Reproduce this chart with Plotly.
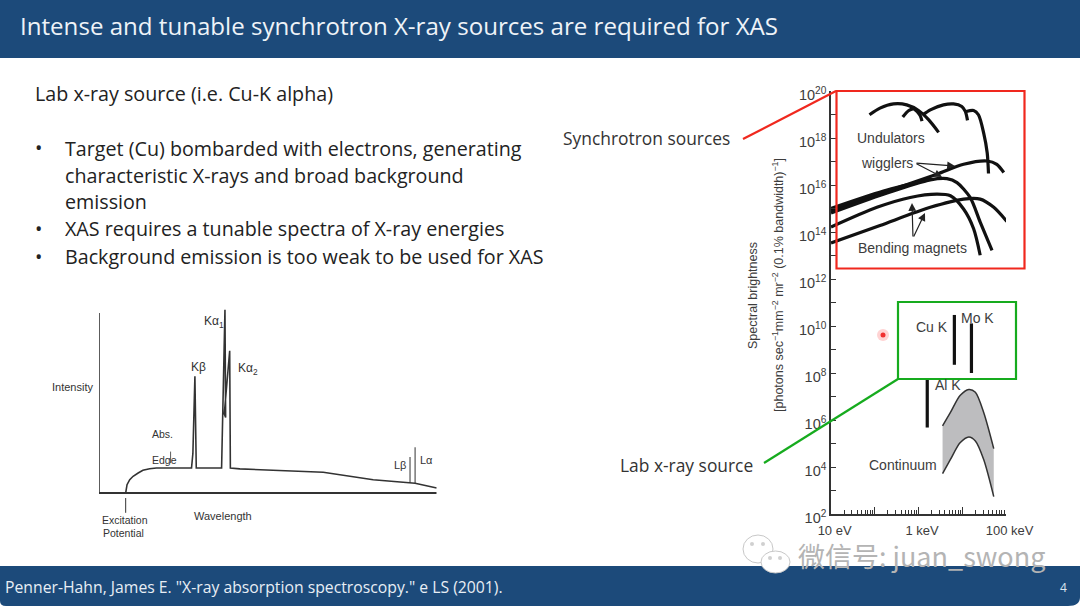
import plotly.graph_objects as go

W, H = 1080, 606

# ---- Left chart data (arbitrary units) ----
spectrum_wavelength = [7.9, 8.3, 9.1, 10.1, 11.6, 13.0, 15.0, 17.0, 27.4, 27.8, 28.4, 28.8, 36.3, 37.3, 37.5, 37.1, 38.7, 38.9, 41.7, 66.4, 81.2, 92.1, 93.6, 100]
spectrum_intensity = [0, 4.6, 7.4, 9.3, 11.1, 12.6, 13.5, 13.9, 13.9, 22, 64.8, 13.9, 13.9, 101.9, 42, 44, 79, 13.9, 13.4, 11.5, 7.4, 5.6, 5.4, 2.8]
l_beta_wavelength = [92.1, 92.1]
l_beta_intensity = [5.6, 20]
l_alpha_wavelength = [93.6, 93.6]
l_alpha_intensity = [5.4, 25.4]
edge_wavelength = [21.2, 21.2]
edge_intensity = [16.6, 23]
excitation_wavelength = [7.9, 7.9]
excitation_intensity = [-2.8, -11]
baseline_wavelength = [0, 100]
baseline_intensity = [0, 0]
axis_wavelength = [0, 0]
axis_intensity = [0, 100]

# ---- Right chart data (log10 eV, log10 brightness) ----
undulators = [
    ([1.88, 2.12, 2.43, 2.73, 3.00, 3.23, 3.46], [18.99, 19.27, 19.45, 19.41, 19.17, 18.78, 18.24]),
    ([2.64, 2.77, 2.89, 2.98, 3.04, 3.08], [18.89, 19.16, 19.24, 19.10, 18.95, 18.72]),
    ([3.10, 3.27, 3.57, 3.80, 3.99, 4.07, 4.12], [18.99, 19.20, 19.41, 19.45, 19.34, 19.13, 18.75]),
    ([4.09, 4.26, 4.37, 4.49, 4.57, 4.60], [19.13, 19.17, 18.99, 18.21, 17.37, 16.49]),
]
wigglers = [
    ([1.0, 2.20, 3.42, 4.03, 4.57, 4.79, 4.95], [14.91, 15.68, 16.46, 16.88, 17.02, 16.88, 16.53]),
    ([1.0, 2.20, 3.27, 3.65, 3.88, 4.18, 4.41, 4.68], [14.81, 15.61, 16.22, 16.27, 16.10, 15.47, 14.42, 13.22]),
    ([1.0, 2.20, 3.30], [15.00, 15.74, 16.26]),
]
bending = [
    ([1.0, 2.05, 2.81, 3.42, 3.73, 4.03, 4.26, 4.41], [14.21, 15.05, 15.47, 15.61, 15.54, 14.98, 14.14, 13.01]),
    ([1.0, 2.12, 3.27, 4.03, 4.41, 4.72, 5.02], [13.53, 14.28, 15.05, 15.40, 15.40, 15.05, 14.45]),
]
k_lines = [
    ([3.20, 3.20], [5.68, 7.75]),
    ([3.82, 3.82], [8.35, 10.47]),
    ([4.21, 4.21], [8.00, 10.11]),
]
continuum_log_e = [3.55, 3.73, 3.95, 4.15, 4.30, 4.49, 4.72]
continuum_top = [5.75, 6.32, 7.04, 7.30, 7.18, 6.32, 4.78]
continuum_bottom = [3.72, 4.32, 5.03, 5.28, 5.11, 4.32, 2.74]

y_tick_exponents = list(range(2, 21))
x_tick_values = [10, 100, 1000, 10000, 100000]
x_tick_labels = ["&nbsp;&nbsp;10 eV", " ", "&nbsp;&nbsp;1 keV", " ", "&nbsp;&nbsp;100 keV"]

bullets = [
    ("•", 35, 147), ("Target (Cu) bombarded with electrons, generating", 65, 148),
    ("characteristic X-rays and broad background", 65, 175), ("emission", 65, 202),
    ("•", 35, 229), ("XAS requires a tunable spectra of X-ray energies", 65, 229),
    ("•", 35, 256), ("Background emission is too weak to be used for XAS", 65, 256),
]

BLUE = "#1c4a7a"
INK = "#3c3c3c"
BODY = "Open Sans"
ARIAL = "Liberation Sans"


def px(x):
    return x / W


def py(y):
    return 1 - y / H


def e(v):
    return [10.0 ** a for a in v]


fig = go.Figure()

# left chart traces
left = dict(xaxis="x", yaxis="y", mode="lines", showlegend=False, hoverinfo="skip")
for xs, ys, lw in [
    (baseline_wavelength, baseline_intensity, 1.8),
    (axis_wavelength, axis_intensity, 1.6),
    (spectrum_wavelength, spectrum_intensity, 1.6),
    (l_beta_wavelength, l_beta_intensity, 1.0),
    (l_alpha_wavelength, l_alpha_intensity, 1.0),
    (edge_wavelength, edge_intensity, 0.8),
    (excitation_wavelength, excitation_intensity, 1.0),
]:
    fig.add_trace(go.Scatter(x=xs, y=ys, line=dict(color="#333333", width=lw), **left))

# right chart traces
right = dict(xaxis="x2", yaxis="y2", mode="lines", showlegend=False, hoverinfo="skip")
smooth = dict(shape="spline", smoothing=0.8)
fig.add_trace(go.Scatter(x=e(continuum_log_e), y=e(continuum_bottom), line=dict(color="#333333", width=1.5, **smooth), **right))
fig.add_trace(go.Scatter(x=e(continuum_log_e), y=e(continuum_top), fill="tonexty", fillcolor="#bdbdbf",
                         line=dict(color="#333333", width=1.5, **smooth), **right))
for group in (undulators, wigglers, bending):
    for xs, ys in group:
        fig.add_trace(go.Scatter(x=e(xs), y=e(ys), line=dict(color="#111111", width=3.2, **smooth), **right))
for xs, ys in k_lines:
    fig.add_trace(go.Scatter(x=e(xs), y=e(ys), line=dict(color="#111111", width=3.2), **right))

shapes = [
    dict(type="path", xref="paper", yref="paper", layer="below", fillcolor=BLUE, line=dict(width=0),
         path=f"M 0 1 L 1 1 L 1 {py(58)} L 0 {py(58)} Z"),
    dict(type="path", xref="paper", yref="paper", layer="below", fillcolor=BLUE, line=dict(width=0),
         path=f"M 0 {py(566)} L 1 {py(566)} L 1 {py(597)} Q 1 {py(606)} {px(1068)} {py(606)} L {px(6)} {py(606)} Q 0 {py(606)} 0 {py(601)} Z"),
    dict(type="rect", xref="paper", yref="paper", x0=px(836.5), x1=px(1024.5), y0=py(268.5), y1=py(91),
         line=dict(color="#f0281e", width=2.2)),
    dict(type="line", xref="paper", yref="paper", x0=px(743), y0=py(139), x1=px(836), y1=py(91),
         line=dict(color="#f0281e", width=2.2)),
    dict(type="rect", xref="paper", yref="paper", x0=px(898), x1=px(1016), y0=py(379), y1=py(302),
         line=dict(color="#16ab1e", width=2.2)),
    dict(type="line", xref="paper", yref="paper", x0=px(764), y0=py(463), x1=px(898), y1=py(379),
         line=dict(color="#16ab1e", width=2.2)),
    # laser pointer
    dict(type="circle", xref="paper", yref="paper", x0=px(877), x1=px(889), y0=py(341), y1=py(329),
         fillcolor="rgba(255,80,80,0.25)", line=dict(width=0)),
    dict(type="circle", xref="paper", yref="paper", x0=px(880.5), x1=px(885.5), y0=py(337.5), y1=py(332.5),
         fillcolor="#f03030", line=dict(width=0)),
    # watermark bubbles
    dict(type="circle", xref="paper", yref="paper", x0=px(743), x1=px(773), y0=py(563), y1=py(535),
         fillcolor="white", line=dict(color="#c8c8c8", width=1)),
    dict(type="circle", xref="paper", yref="paper", x0=px(761), x1=px(790), y0=py(573), y1=py(551),
         fillcolor="white", line=dict(color="#c8c8c8", width=1)),
]
for cx, cy in [(752, 544), (763, 544), (770, 558), (780, 558)]:
    shapes.append(dict(type="circle", xref="paper", yref="paper", x0=px(cx - 2), x1=px(cx + 2), y0=py(cy + 2), y1=py(cy - 2),
                       fillcolor="#d0d0d0", line=dict(width=0)))


def note(text, x, y, size=14, color=INK, family=ARIAL, xanchor="center", **kw):
    if xanchor == "left":
        x -= 2
    return dict(text=text, x=px(x), y=py(y), xref="paper", yref="paper", showarrow=False,
                font=dict(size=size, color=color, family=family), xanchor=xanchor, yanchor="middle", **kw)


def arrow(x, y, x_from, y_from):
    return dict(text="", x=px(x), y=py(y), xref="paper", yref="paper", ax=x_from - x, ay=y_from - y,
                axref="pixel", ayref="pixel", showarrow=True, arrowhead=2, arrowsize=1.3, arrowwidth=1.2, arrowcolor="#222222")


annotations = [
    note("Intense and tunable synchrotron X-ray sources are required for XAS", 20, 25, size=24.1, color="#eef3f8", family=BODY, xanchor="left"),
    note("Lab x-ray source (i.e. Cu-K alpha)", 35, 93, size=19.7, color="#222222", family=BODY, xanchor="left"),
    note('Penner-Hahn, James E. "X-ray absorption spectroscopy." e LS (2001).', 5, 587, size=15.75, color="#e8eef5", family=BODY, xanchor="left"),
    note("4", 1063, 587, size=12, color="#dde6f0", family=BODY),
    note("Synchrotron sources", 563, 138, size=17.4, color="#333333", family=BODY, xanchor="left"),
    note("Lab x-ray source", 620, 465, size=17.4, color="#333333", family=BODY, xanchor="left"),
    note("Spectral brightness", 753, 296, size=12.5, textangle=-90),
    note("[photons sec<sup>−1</sup>mm<sup>−2</sup> mr<sup>−2</sup> (0.1% bandwidth)<sup>−1</sup>]", 778, 285, size=12.5, textangle=-90),
    note("Undulators", 891, 138, size=14),
    note("wigglers", 887, 163, size=14),
    note("Bending magnets", 912, 248, size=14),
    note("Cu K", 932, 327, size=14),
    note("Mo K", 977, 318, size=14),
    note("Al K", 948, 385, size=14),
    note("Continuum", 903, 465, size=14),
    arrow(955, 166, 915, 163), arrow(942, 177, 915, 163),
    arrow(912, 203, 913, 238), arrow(925, 213, 913, 238),
    note("Intensity", 72, 387, size=11, color="#333333"),
    note("Kα<sub>1</sub>", 214, 322, size=12, color="#333333"),
    note("Kα<sub>2</sub>", 248, 369, size=12, color="#333333"),
    note("Kβ", 198, 367, size=12, color="#333333"),
    note("Abs.", 162, 434, size=10.5, color="#333333"),
    note("Edge", 164, 460, size=10.5, color="#333333"),
    note("Lβ", 400, 465, size=11, color="#333333"),
    note("Lα", 426, 460, size=11, color="#333333"),
    note("Excitation", 125, 520, size=10.5, color="#333333"),
    note("Potential", 123, 533, size=10.5, color="#333333"),
    note("Wavelength", 223, 516, size=11, color="#333333"),
    note("微信号: juan_swong", 798, 555, size=27, color="#b4b4b4", family="Noto Sans CJK SC", xanchor="left"),
]
for text, x, y in bullets:
    annotations.append(note(text, x, y, size=19.7, color="#222222", family=BODY, xanchor="left"))

fig.update_layout(
    width=W, height=H, margin=dict(l=0, r=0, t=0, b=0, autoexpand=False), paper_bgcolor="white", plot_bgcolor="rgba(0,0,0,0)",
    showlegend=False, shapes=shapes, annotations=annotations,
    xaxis=dict(domain=[px(99), px(436.7)], range=[0, 100], visible=False),
    yaxis=dict(domain=[py(520), py(309.4)], range=[-15, 102], visible=False),
    xaxis2=dict(domain=[px(831), px(1006)], type="log", range=[1, 5], anchor="y2", showline=True, linecolor="#333333", linewidth=1.5,
                showgrid=False, zeroline=False, ticks="inside", ticklen=7, tickcolor="#333333", tickwidth=1.2,
                ticklabelstandoff=4,
                tickvals=x_tick_values, ticktext=x_tick_labels, tickangle=0, tickfont=dict(size=13, color=INK, family=ARIAL),
                minor=dict(ticks="inside", ticklen=4, tickcolor="#333333", tickwidth=1, showgrid=False, dtick="D1")),
    yaxis2=dict(domain=[py(514), py(91)], type="log", range=[2, 20], anchor="x2", showline=True, linecolor="#333333", linewidth=1.5,
                showgrid=False, zeroline=False, ticks="inside", ticklen=5, tickcolor="#333333", tickwidth=1.2,
                ticklabelshift=4,
                tickvals=[10.0 ** n for n in y_tick_exponents],
                ticktext=[f"10<sup>{n}</sup>" if n % 2 == 0 else " " for n in y_tick_exponents],
                tickfont=dict(size=14.5, color=INK, family=ARIAL)),
)

fig.write_html("out.html", config={"displayModeBar": False}, post_script="document.body.style.margin='0';")
